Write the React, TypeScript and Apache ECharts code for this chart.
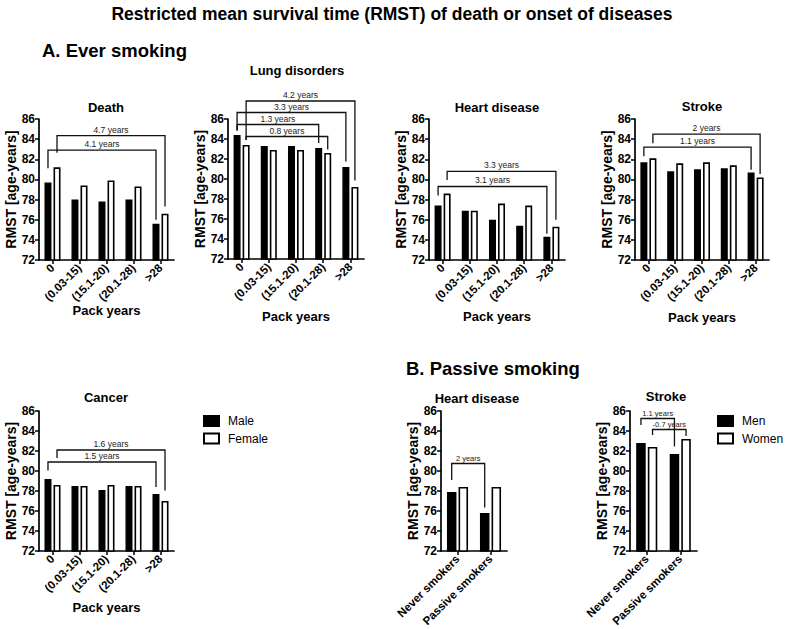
import React, { useEffect, useRef } from 'react';
import * as echarts from 'echarts';

const FONT = '"Liberation Sans", Arial, Helvetica, sans-serif';

const packCats = ['0', '(0.03-15)', '(15.1-20)', '(20.1-28)', '>28'];
const passiveCats = ['Never smokers', 'Passive smokers'];

const deathMale = [79.7, 78.0, 77.8, 78.0, 75.6];
const deathFemale = [81.2, 79.4, 79.9, 79.3, 76.6];
const lungMale = [84.4, 83.3, 83.3, 83.1, 81.2];
const lungFemale = [83.4, 82.9, 82.9, 82.6, 79.2];
const heartMale = [77.4, 76.9, 76.0, 75.4, 74.3];
const heartFemale = [78.6, 76.9, 77.6, 77.4, 75.3];
const strokeMale = [81.7, 80.8, 81.0, 81.1, 80.7];
const strokeFemale = [82.1, 81.6, 81.7, 81.4, 80.2];
const cancerMale = [79.2, 78.5, 78.1, 78.5, 77.7];
const cancerFemale = [78.6, 78.5, 78.6, 78.5, 77.0];
const passiveHeartMen = [77.9, 75.8];
const passiveHeartWomen = [78.4, 78.4];
const passiveStrokeMen = [82.8, 81.7];
const passiveStrokeWomen = [82.4, 83.2];

const yMin = 72;
const yMax = 86;
const yInterval = 2;

// bracket: [fromCat, fromSeries(0=male,1=female), toCat, toSeries, lineLevel, leftLegEnd, rightLegEnd, label]
const deathBrackets = [
  [0, 0, 4, 0, 82.9, 81.1, 76.0, '4.1 years'],
  [0, 1, 4, 1, 84.35, 82.65, 77.3, '4.7 years'],
];
const lungBrackets = [
  [0, 1, 4, 1, 87.8, 83.9, 79.85, '4.2 years'],
  [0, 0, 4, 0, 86.65, 84.85, 81.75, '3.3 years'],
  [0, 0, 3, 0, 85.45, 84.85, 83.6, '1.3 years'],
  [0, 1, 3, 1, 84.25, 83.9, 82.95, '0.8 years'],
];
const heartBrackets = [
  [0, 0, 4, 0, 79.3, 78.4, 74.6, '3.1 years'],
  [0, 1, 4, 1, 80.8, 79.95, 76.0, '3.3 years'],
];
const strokeBrackets = [
  [0, 0, 4, 0, 83.2, 82.3, 80.95, '1.1 years'],
  [0, 1, 4, 1, 84.5, 83.6, 80.55, '2 years'],
];
const cancerBrackets = [
  [0, 0, 4, 0, 80.9, 80.05, 78.4, '1.5 years'],
  [0, 1, 4, 1, 82.1, 81.3, 78.05, '1.6 years'],
];
const passiveHeartBrackets = [[0, 0, 1, 0, 80.75, 79.1, 76.35, '2 years']];
const passiveStrokeBrackets = [
  [0, 0, 1, 0, 85.25, 84.6, 82.45, '1.1 years'],
  [0, 1, 1, 1, 84.15, 83.6, 83.5, '-0.7 years'],
];

type Panel = {
  title: string;
  cats: string[];
  a: number[];
  b: number[];
  names: [string, string];
  brackets: any[];
  left: number;
  top: number;
  width: number;
  height: number;
  titleX: number;
  titleY: number;
  nameGap: number | null;
  barWidth: number;
  gap: number;
  bracketFont: number;
};

const pack = (o: any) => ({ cats: packCats, names: ['Male', 'Female'], barWidth: 7, gap: 0.29, bracketFont: 8.5, ...o });
const pas = (o: any) => ({ cats: passiveCats, names: ['Men', 'Women'], barWidth: 9.5, gap: 0.22, nameGap: null, bracketFont: 7.5, ...o });

const panels: Panel[] = [
  pack({ title: 'Death', a: deathMale, b: deathFemale, brackets: deathBrackets, left: 39, top: 119, width: 135, height: 141, titleX: 106, titleY: 107, nameGap: 44 }),
  pack({ title: 'Lung disorders', a: lungMale, b: lungFemale, brackets: lungBrackets, left: 228, top: 119, width: 136, height: 140, titleX: 297, titleY: 70, nameGap: 51 }),
  pack({ title: 'Heart disease', a: heartMale, b: heartFemale, brackets: heartBrackets, left: 429, top: 119, width: 136, height: 141, titleX: 497, titleY: 107, nameGap: 50 }),
  pack({ title: 'Stroke', a: strokeMale, b: strokeFemale, brackets: strokeBrackets, left: 635, top: 119, width: 134, height: 141, titleX: 702, titleY: 106, nameGap: 51 }),
  pack({ title: 'Cancer', a: cancerMale, b: cancerFemale, brackets: cancerBrackets, left: 39, top: 411, width: 135, height: 140, titleX: 106, titleY: 397, nameGap: 50 }),
  pas({ title: 'Heart disease', a: passiveHeartMen, b: passiveHeartWomen, brackets: passiveHeartBrackets, left: 441, top: 411, width: 66, height: 140, titleX: 477, titleY: 398 }),
  pas({ title: 'Stroke', a: passiveStrokeMen, b: passiveStrokeWomen, brackets: passiveStrokeBrackets, left: 630, top: 411, width: 67, height: 140, titleX: 666, titleY: 396 }),
];

function baseTexts() {
  const t = (text: string, x: number, y: number, size: number, align = 'center', weight = 'bold') => ({
    type: 'text',
    x,
    y,
    z: 20,
    style: {
      text,
      fill: '#000',
      fontSize: size,
      fontWeight: weight,
      fontFamily: FONT,
      textAlign: align,
      align,
      textVerticalAlign: 'middle',
      verticalAlign: 'middle',
    },
  });
  const els: any[] = [
    t('Restricted mean survival time (RMST) of death or onset of diseases', 392, 14, 17.5),
    t('A. Ever smoking', 42, 50, 18.5, 'left'),
    t('B. Passive smoking', 406, 368, 18.5, 'left'),
  ];
  panels.forEach((p) => els.push(t(p.title, p.titleX, p.titleY, 13)));
  return els;
}

export default function App() {
  const ref = useRef<HTMLDivElement>(null);
  useEffect(() => {
    document.body.style.margin = '0';
    if (!ref.current) return;
    const chart = echarts.init(ref.current, null, { renderer: 'svg' });
    const grid: any[] = [];
    const xAxis: any[] = [];
    const yAxis: any[] = [];
    const series: any[] = [];
    const axisLine = { show: true, lineStyle: { color: '#000', width: 1.7 } };
    const axisTick = { show: true, length: 4, lineStyle: { color: '#000', width: 1.5 } };
    panels.forEach((p, i) => {
      grid.push({ left: p.left, top: p.top, width: p.width, height: p.height, containLabel: false, outerBoundsMode: 'none' });
      xAxis.push({
        type: 'category',
        gridIndex: i,
        data: p.cats,
        boundaryGap: true,
        axisLine,
        axisTick: { ...axisTick, alignWithLabel: true },
        axisLabel: { rotate: 45, interval: 0, margin: 6, color: '#000', fontSize: 11.5, fontWeight: 'bold', fontFamily: FONT },
        splitLine: { show: false },
        name: p.nameGap == null ? '' : 'Pack years',
        nameLocation: 'middle',
        nameGap: p.nameGap == null ? 0 : p.nameGap,
        nameMoveOverlap: false,
        nameTextStyle: { color: '#000', fontSize: 13, fontWeight: 'bold', fontFamily: FONT },
      });
      yAxis.push({
        type: 'value',
        gridIndex: i,
        min: yMin,
        max: yMax,
        interval: yInterval,
        axisLine,
        axisTick,
        axisLabel: { color: '#000', fontSize: 12, fontWeight: 'bold', fontFamily: FONT, margin: 4 },
        splitLine: { show: false },
        name: 'RMST [age-years]',
        nameLocation: 'middle',
        nameRotate: 90,
        nameGap: 21,
        nameMoveOverlap: false,
        nameTextStyle: { color: '#000', fontSize: 14, fontWeight: 'bold', fontFamily: FONT },
      });
      const common = { type: 'bar', xAxisIndex: i, yAxisIndex: i, barWidth: p.barWidth, barGap: `${p.gap * 100}%`, clip: true };
      series.push({ ...common, name: p.names[0], data: p.a, itemStyle: { color: '#000', borderColor: '#000', borderWidth: 1.4 } });
      series.push({ ...common, name: p.names[1], data: p.b, itemStyle: { color: '#fff', borderColor: '#000', borderWidth: 1.6 } });
    });
    const legendCommon = {
      orient: 'vertical',
      icon: 'rect',
      itemWidth: 15,
      itemHeight: 10,
      itemGap: 5.5,
      selectedMode: false,
      padding: 0,
      textStyle: { color: '#000', fontSize: 12, fontFamily: FONT, padding: [0, 0, 0, 4] },
    };
    chart.setOption({
      animation: false,
      backgroundColor: '#fff',
      textStyle: { fontFamily: FONT },
      grid,
      xAxis,
      yAxis,
      series,
      legend: [
        { ...legendCommon, data: ['Male', 'Female'], left: 203, top: 415 },
        { ...legendCommon, data: ['Men', 'Women'], left: 717, top: 415 },
      ],
      graphic: { elements: baseTexts() },
    });

    const els = baseTexts();
    panels.forEach((p, gi) => {
      const d = p.barWidth * (1 + p.gap);
      p.brackets.forEach((b: any[]) => {
        const [fc, fs, tc, ts, lv, le, re, label] = b;
        const pL = chart.convertToPixel({ gridIndex: gi } as any, [fc, lv]) as number[];
        const pR = chart.convertToPixel({ gridIndex: gi } as any, [tc, lv]) as number[];
        const yLE = (chart.convertToPixel({ gridIndex: gi } as any, [fc, le]) as number[])[1];
        const yRE = (chart.convertToPixel({ gridIndex: gi } as any, [tc, re]) as number[])[1];
        const x1 = pL[0] + (fs ? d / 2 : -d / 2);
        const x2 = pR[0] + (ts ? d / 2 : -d / 2);
        els.push({
          type: 'polyline',
          z: 15,
          shape: { points: [[x1, yLE], [x1, pL[1]], [x2, pL[1]], [x2, yRE]] },
          style: { stroke: '#111', lineWidth: 1.3, fill: null },
        });
        els.push({
          type: 'text',
          z: 15,
          x: (x1 + x2) / 2,
          y: pL[1] - 1.5,
          style: {
            text: label,
            fill: '#222',
            fontSize: p.bracketFont,
            fontFamily: FONT,
            textAlign: 'center',
            align: 'center',
            textVerticalAlign: 'bottom',
            verticalAlign: 'bottom',
          },
        });
      });
    });
    chart.setOption({ graphic: { elements: els } }, { replaceMerge: ['graphic'] } as any);

    return () => chart.dispose();
  }, []);
  return <div ref={ref} style={{ width: 785, height: 629 }} />;
}
